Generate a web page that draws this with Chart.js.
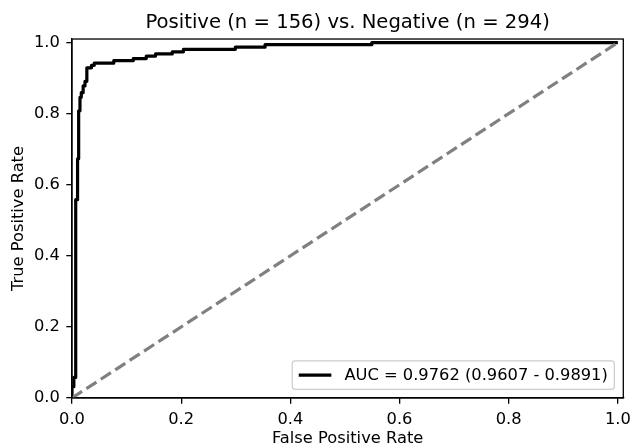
<!DOCTYPE html>
<html>
<head>
<meta charset="utf-8">
<title>ROC curve</title>
<script src="https://cdn.jsdelivr.net/npm/chart.js@4/dist/chart.umd.min.js"></script>
<style>
  html, body { margin: 0; padding: 0; background: #ffffff; }
  #wrap { width: 631px; height: 446px; }
</style>
</head>
<body>
<div id="wrap"><canvas id="roc" width="631" height="446"></canvas></div>
<script>
// Group sizes shown in the title
const nPositive = 156;
const nNegative = 294;

// ROC curve corner points (false positive rate, true positive rate)
const fpr = [0, 0, 0.0034, 0.0034, 0.0068, 0.0068, 0.0102, 0.0102, 0.0122, 0.0122,
             0.0146, 0.0146, 0.0170, 0.0170, 0.0204, 0.0204, 0.0238, 0.0238, 0.0272, 0.0272,
             0.0357, 0.0357, 0.0408, 0.0408, 0.0765, 0.0765, 0.1122, 0.1122, 0.1361, 0.1361,
             0.1531, 0.1531, 0.1837, 0.1837, 0.2041, 0.2041, 0.2993, 0.2993, 0.3537, 0.3537,
             0.5493, 0.5493, 1.0];
const tpr = [0, 0.032, 0.032, 0.058, 0.058, 0.558, 0.558, 0.673, 0.673, 0.808,
             0.808, 0.846, 0.846, 0.859, 0.859, 0.878, 0.878, 0.891, 0.891, 0.929,
             0.929, 0.936, 0.936, 0.942, 0.942, 0.949, 0.949, 0.955, 0.955, 0.962,
             0.962, 0.968, 0.968, 0.974, 0.974, 0.981, 0.981, 0.987, 0.987, 0.994,
             0.994, 1.0, 1.0];

// Chance diagonal
const chanceFpr = [0, 1];
const chanceTpr = [0, 1];

// Area under the curve with its confidence interval
const aucValue = 0.9762;
const aucLower = 0.9607;
const aucUpper = 0.9891;

// Tick positions
const xTicks = [0, 0.2, 0.4, 0.6, 0.8, 1.0];
const yTicks = [0, 0.2, 0.4, 0.6, 0.8, 1.0];

const FONT = '"DejaVu Sans", "Liberation Sans", sans-serif';
const FS = 16.3;

const toPoints = (xs, ys) => xs.map((x, i) => ({ x: x, y: ys[i] }));

// Draws the full frame around the plot area
const frame = {
  id: 'frame',
  afterDatasetsDraw(chart) {
    const { ctx, chartArea: a } = chart;
    ctx.save();
    ctx.strokeStyle = '#000000';
    ctx.lineWidth = 1.3;
    ctx.strokeRect(a.left, a.top, a.right - a.left, a.bottom - a.top);
    ctx.restore();
  }
};

// Legend box in the lower right corner of the plot area
const cornerLegend = {
  id: 'cornerLegend',
  afterDatasetsDraw(chart) {
    const { ctx, chartArea: a } = chart;
    const ds = chart.data.datasets[0];
    ctx.save();
    ctx.font = FS + 'px ' + FONT;
    const tw = ctx.measureText(ds.label).width;
    const pad = 0.4 * FS, handle = 2 * FS, gap = 0.8 * FS;
    const w = pad + handle + gap + tw + pad;
    const h = 1.75 * FS;
    const right = a.right - 0.55 * FS;
    const bottom = a.bottom - 0.53 * FS;
    const left = right - w, top = bottom - h;
    ctx.beginPath();
    ctx.roundRect(left, top, w, h, 3);
    ctx.fillStyle = 'rgba(255,255,255,0.8)';
    ctx.fill();
    ctx.strokeStyle = '#cccccc';
    ctx.lineWidth = 1.2;
    ctx.stroke();
    const cy = top + h / 2;
    ctx.beginPath();
    ctx.moveTo(left + pad, cy);
    ctx.lineTo(left + pad + handle, cy);
    ctx.strokeStyle = ds.borderColor;
    ctx.lineWidth = ds.borderWidth;
    ctx.stroke();
    ctx.fillStyle = '#000000';
    ctx.textAlign = 'left';
    ctx.textBaseline = 'middle';
    ctx.fillText(ds.label, left + pad + handle + gap, cy + 0.5);
    ctx.restore();
  }
};

const tickFont = { family: FONT, size: FS };

new Chart(document.getElementById('roc'), {
  type: 'scatter',
  data: {
    datasets: [
      {
        label: 'AUC = ' + aucValue.toFixed(4) + ' (' + aucLower.toFixed(4) + ' - ' + aucUpper.toFixed(4) + ')',
        data: toPoints(fpr, tpr),
        showLine: true,
        borderColor: '#000000',
        borderWidth: 3.2,
        borderJoinStyle: 'round',
        pointRadius: 0,
        tension: 0,
        clip: 0,
        order: 1
      },
      {
        label: 'Chance',
        data: toPoints(chanceFpr, chanceTpr),
        showLine: true,
        borderColor: '#808080',
        borderWidth: 3.2,
        borderDash: [12, 5.2],
        pointRadius: 0,
        clip: 0,
        order: 0
      }
    ]
  },
  options: {
    responsive: false,
    animation: false,
    devicePixelRatio: 1,
    layout: { padding: { left: 0, right: 7.7, top: 0, bottom: 0 } },
    plugins: {
      legend: { display: false },
      tooltip: { enabled: false },
      title: {
        display: true,
        fullSize: false,
        text: 'Positive (n = ' + nPositive + ') vs. Negative (n = ' + nNegative + ')',
        color: '#000000',
        font: { family: FONT, size: 19.6, weight: 'normal', lineHeight: 1.2 },
        padding: { top: 11.5, bottom: 4 }
      }
    },
    scales: {
      x: {
        type: 'linear',
        min: 0,
        max: 1.01,
        afterBuildTicks: s => { s.ticks = xTicks.map(v => ({ value: v })); },
        afterFit: s => { s.height = 48; s.paddingLeft = 0; s.paddingRight = 0; },
        ticks: {
          color: '#000000',
          font: tickFont,
          padding: 6.5,
          maxRotation: 0,
          autoSkip: false,
          callback: v => Number(v).toFixed(1)
        },
        grid: { drawOnChartArea: false, drawTicks: true, tickLength: 5.7, color: '#000000', lineWidth: 1.3 },
        border: { display: true, color: '#000000', width: 1.3 },
        title: {
          display: true,
          text: 'False Positive Rate',
          color: '#000000',
          font: { family: FONT, size: FS, lineHeight: 0.85 },
          padding: { top: 0, bottom: 0 }
        }
      },
      y: {
        type: 'linear',
        min: 0,
        max: 1.01,
        afterBuildTicks: s => { s.ticks = yTicks.map(v => ({ value: v })); },
        afterFit: s => { s.width = 72; s.paddingTop = 0; s.paddingBottom = 0; },
        ticks: {
          color: '#000000',
          font: tickFont,
          padding: 6.5,
          autoSkip: false,
          callback: v => Number(v).toFixed(1)
        },
        grid: { drawOnChartArea: false, drawTicks: true, tickLength: 5.7, color: '#000000', lineWidth: 1.3 },
        border: { display: true, color: '#000000', width: 1.3 },
        title: {
          display: true,
          text: 'True Positive Rate',
          color: '#000000',
          font: { family: FONT, size: FS, lineHeight: 1.2 },
          padding: { top: 8.5, bottom: 0 }
        }
      }
    }
  },
  plugins: [frame, cornerLegend]
});
</script>
</body>
</html>
